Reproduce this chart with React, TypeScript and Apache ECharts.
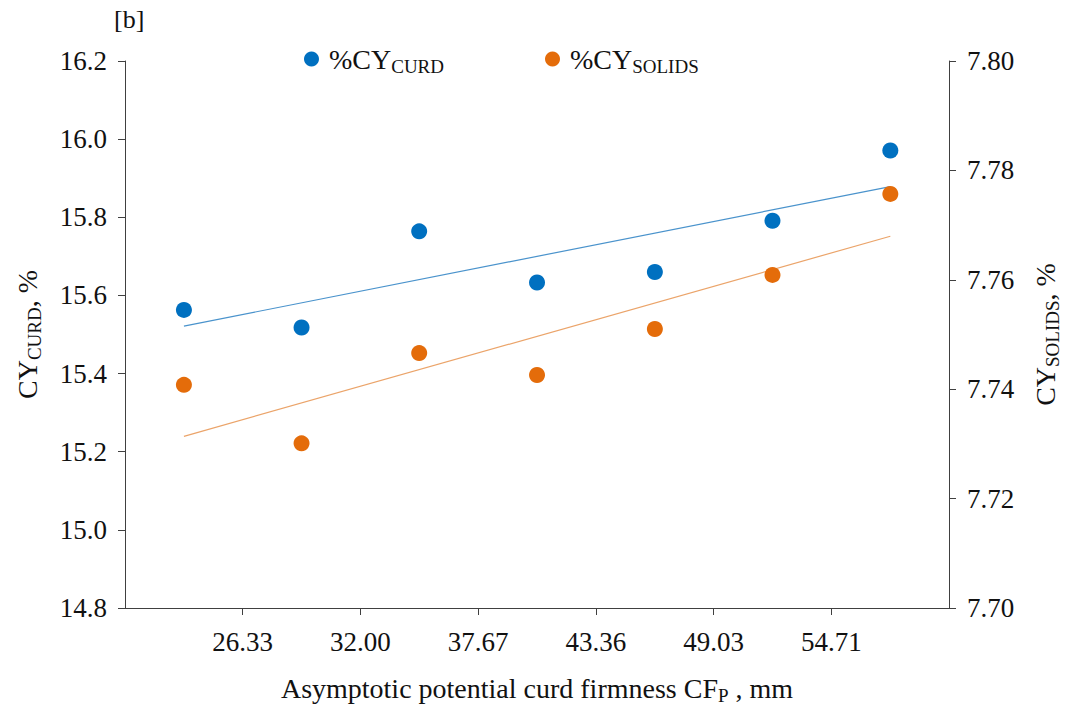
import React, { useEffect, useRef } from "react";
import * as echarts from "echarts";

// Class mid-points of asymptotic potential curd firmness CF_P (mm)
const xValues = [23.5, 29.17, 34.84, 40.52, 46.2, 51.87, 57.55];
// %CY_CURD (left axis)
const cyCurd = [15.563, 15.518, 15.764, 15.633, 15.66, 15.791, 15.971];
// %CY_SOLIDS (right axis)
const cySolids = [7.7408, 7.7301, 7.7466, 7.7426, 7.751, 7.7609, 7.7757];
// x tick labels shown on the axis
const xTickLabels = ["26.33", "32.00", "37.67", "43.36", "49.03", "54.71"];
const xMin = 20.66;
const xStep = 5.674;
const xMax = xMin + 7 * xStep;

const FONT = "'Liberation Serif', 'Times New Roman', serif";

function fit(xs: number[], ys: number[]) {
  const n = xs.length;
  const mx = xs.reduce((a, b) => a + b, 0) / n;
  const my = ys.reduce((a, b) => a + b, 0) / n;
  let sxy = 0;
  let sxx = 0;
  for (let i = 0; i < n; i++) {
    sxy += (xs[i] - mx) * (ys[i] - my);
    sxx += (xs[i] - mx) * (xs[i] - mx);
  }
  const b = sxy / sxx;
  const a = my - b * mx;
  const x0 = xs[0];
  const x1 = xs[n - 1];
  return [
    [x0, a + b * x0],
    [x1, a + b * x1],
  ];
}

export default function App() {
  const ref = useRef<HTMLDivElement>(null);
  useEffect(() => {
    if (!ref.current) return;
    const chart = echarts.init(ref.current, undefined, { renderer: "svg" });
    const blue = "#0070C0";
    const orange = "#E46C0A";
    const axisLine = { show: true, lineStyle: { color: "#404040", width: 1 } };
    const axisTick = { show: true, inside: false, length: 7, lineStyle: { color: "#404040" } };
    const labelStyle = { color: "#111", fontFamily: FONT, fontSize: 27 };
    const nameStyle = { color: "#111", fontFamily: FONT, fontSize: 28 };
    const subRich = {
      sub: { fontFamily: FONT, fontSize: 19, color: "#111", verticalAlign: "bottom", padding: [0, 0, -3, 0] },
      gap: { width: 5 },
    };
    chart.setOption({
      animation: false,
      backgroundColor: "#fff",
      graphic: [
        {
          type: "text",
          left: 114,
          top: 6,
          style: { text: "[b]", fontFamily: FONT, fontSize: 26, fill: "#111" },
        },
      ],
      legend: {
        data: ["%CY_CURD", "%CY_SOLIDS"],
        left: 299,
        top: 40,
        icon: "circle",
        itemWidth: 15,
        itemHeight: 15,
        itemGap: 101,
        formatter: (name: string) =>
          name === "%CY_CURD" ? "{gap|}%CY{sub|CURD}" : "{gap|}%CY{sub|SOLIDS}",
        textStyle: {
          fontFamily: FONT,
          fontSize: 28,
          color: "#111",
          rich: subRich,
        },
      },
      grid: { left: 125, right: 129, top: 61, bottom: 103, containLabel: false, outerBoundsMode: "none" },
      xAxis: {
        type: "value",
        min: xMin,
        max: xMax,
        interval: xStep,
        axisLine,
        axisTick,
        splitLine: { show: false },
        axisLabel: {
          ...labelStyle,
          margin: 20,
          showMinLabel: false,
          showMaxLabel: false,
          formatter: (v: number) => {
            const i = Math.round((v - xMin) / xStep);
            return xTickLabels[i - 1] ?? "";
          },
        },
        name: "Asymptotic potential curd firmness CF{sub|P} , mm",
        nameLocation: "middle",
        nameGap: 66,
        nameTextStyle: { ...nameStyle, rich: subRich },
      },
      yAxis: [
        {
          type: "value",
          min: 14.8,
          max: 16.2,
          interval: 0.2,
          axisLine,
          axisTick,
          splitLine: { show: false },
          axisLabel: { ...labelStyle, margin: 18, formatter: (v: number) => v.toFixed(1) },
          name: "CY{sub|CURD}, %",
          nameLocation: "middle",
          nameRotate: 90,
          nameGap: 84,
          nameTextStyle: { ...nameStyle, rich: subRich },
        },
        {
          type: "value",
          position: "right",
          min: 7.7,
          max: 7.8,
          interval: 0.02,
          axisLine,
          axisTick,
          splitLine: { show: false },
          axisLabel: { ...labelStyle, margin: 18, formatter: (v: number) => v.toFixed(2) },
          name: "CY{sub|SOLIDS}, %",
          nameLocation: "middle",
          nameRotate: 90,
          nameGap: 82,
          nameTextStyle: { ...nameStyle, rich: subRich },
        },
      ],
      series: [
        {
          name: "%CY_CURD trend",
          type: "line",
          yAxisIndex: 0,
          data: fit(xValues, cyCurd),
          symbol: "none",
          lineStyle: { color: "#4A93CC", width: 1.2 },
          z: 1,
        },
        {
          name: "%CY_SOLIDS trend",
          type: "line",
          yAxisIndex: 1,
          data: fit(xValues, cySolids),
          symbol: "none",
          lineStyle: { color: "#EBA46A", width: 1.2 },
          z: 1,
        },
        {
          name: "%CY_CURD",
          type: "scatter",
          yAxisIndex: 0,
          data: xValues.map((x, i) => [x, cyCurd[i]]),
          symbol: "circle",
          symbolSize: 16,
          itemStyle: { color: blue, opacity: 1 },
          z: 3,
        },
        {
          name: "%CY_SOLIDS",
          type: "scatter",
          yAxisIndex: 1,
          data: xValues.map((x, i) => [x, cySolids[i]]),
          symbol: "circle",
          symbolSize: 16,
          itemStyle: { color: orange, opacity: 1 },
          z: 3,
        },
      ],
    });
    return () => chart.dispose();
  }, []);
  return <div ref={ref} style={{ width: 1078, height: 711, position: "absolute", left: 0, top: 0 }} />;
}
